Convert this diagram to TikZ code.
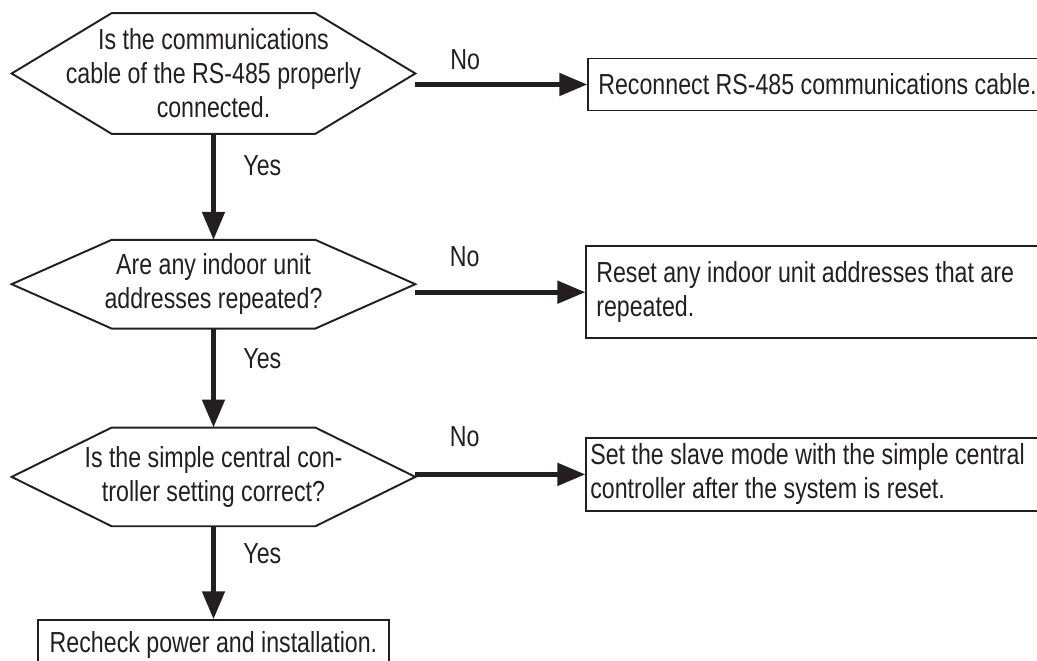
\documentclass[tikz,border=0pt]{standalone}
\usepackage{fontspec}
\setmainfont{Liberation Sans}[FakeStretch=0.8]
\usetikzlibrary{arrows.meta, positioning, calc}
\definecolor{inkcolor}{HTML}{231F20}

\begin{document}
\begin{tikzpicture}[
  >=Triangle,
  every node/.style={font=\fontsize{16.5}{19.4}\selectfont, text=inkcolor},
  node distance=2cm and 3.4cm,
]

\tikzset{
  decision/.style={rectangle, minimum width=8.06cm, align=center, inner sep=0pt},
  actionbox/.style={rectangle, draw=inkcolor, line width=1.1pt,
    text width=9.6cm, align=left, inner xsep=0.2cm,
    execute at begin node={\spaceskip=0pt\xspaceskip=0pt}},
  answer/.style={inner sep=0pt},
  flowline/.style={-{Triangle[length=5.6mm, width=4.4mm]}, line width=2.8pt, inkcolor},
}

\newcommand{\decisionhex}[1]{
  \draw[inkcolor, line width=1.1pt]
    (#1.west) -- ($(#1.north west)+(2,0)$) -- ($(#1.north east)+(-2,0)$)
    -- (#1.east) -- ($(#1.south east)+(-2,0)$) -- ($(#1.south west)+(2,0)$) -- cycle;
}

\useasboundingbox (0,0) rectangle (20.74,13.22);
\clip (0,0) rectangle (20.74,13.22);

% ---------------------------------------------------------------
% Left column -- the three checks
% ---------------------------------------------------------------
\node[decision, minimum height=2.4cm] (cable) at (4.27,11.75)
  {Is the communications\\cable of the RS-485 properly\\connected.};
\node[decision, minimum height=1.76cm, below=2.12cm of cable] (address)
  {Are any indoor unit\\addresses repeated?};
\node[decision, minimum height=1.96cm, below=1.98cm of address] (central)
  {Is the simple central con-\\troller setting correct?};
\node[rectangle, draw=inkcolor, line width=1.1pt, minimum width=7.02cm, minimum height=1.0cm,
      below=1.86cm of central] (recheck) {Recheck power and installation.};

\decisionhex{cable}
\decisionhex{address}
\decisionhex{central}

% ---------------------------------------------------------------
% Right column -- what to do on "No"
% ---------------------------------------------------------------
\node[actionbox, minimum height=1.04cm, right=3.44cm of cable, yshift=-0.22cm] (reconnect)
  {Reconnect RS-485 communications cable.};
\node[actionbox, minimum height=1.84cm, right=3.4cm of address, yshift=-0.16cm] (reset)
  {Reset any indoor unit addresses that are\\repeated.};
\node[actionbox, inner xsep=0.08cm, minimum height=1.34cm, right=3.4cm of central, yshift=0.05cm] (slave)
  {Set the slave mode with the simple central\\controller after the system is reset.};

% Yes path
\draw[flowline] (cable.south) -- node[answer, pos=0.3, right=0.55cm]{Yes} (address.north);
\draw[flowline] (address.south) -- node[answer, pos=0.3, right=0.55cm]{Yes} (central.north);
\draw[flowline] (central.south) -- node[answer, pos=0.3, right=0.55cm]{Yes} (recheck.north);

% No path
\draw[flowline] (cable.east |- reconnect.west) -- node[answer, pos=0.29, above=0.25cm]{No} (reconnect.west);
\draw[flowline] (address.east |- reset.west) -- node[answer, pos=0.29, above=0.45cm]{No} (reset.west);
\draw[flowline] (central.east |- slave.west) -- node[answer, pos=0.29, above=0.5cm]{No} (slave.west);

\end{tikzpicture}
\end{document}
